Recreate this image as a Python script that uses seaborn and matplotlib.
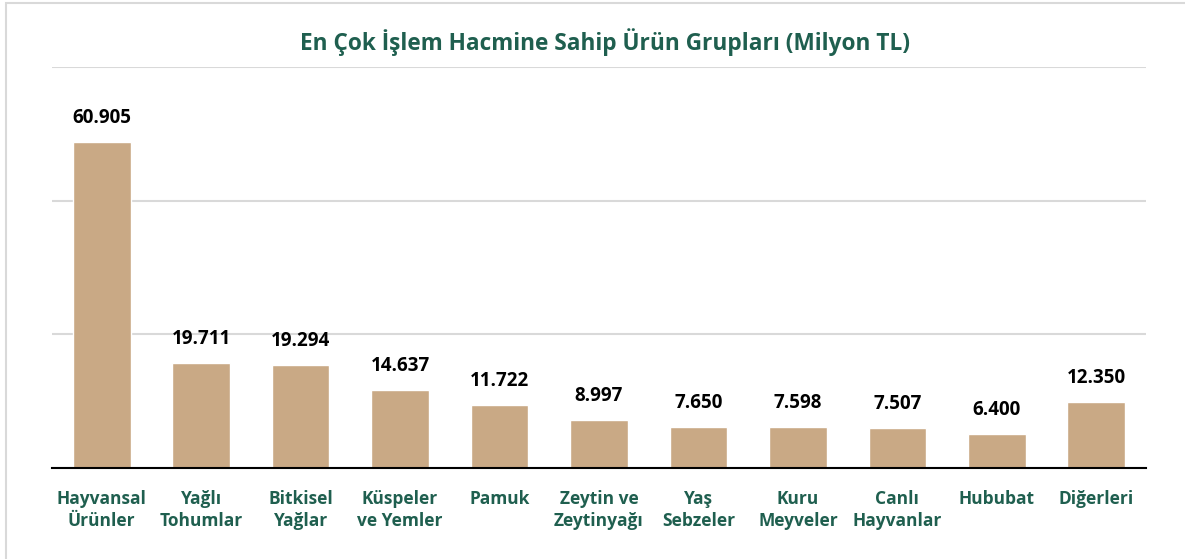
import matplotlib
matplotlib.use("Agg")
import matplotlib.pyplot as plt
import seaborn as sns
import pandas as pd
from matplotlib.patches import Rectangle

categories = ["Hayvansal\nÜrünler", "Yağlı\nTohumlar", "Bitkisel\nYağlar", "Küspeler\nve Yemler",
              "Pamuk", "Zeytin ve\nZeytinyağı", "Yaş\nSebzeler", "Kuru\nMeyveler",
              "Canlı\nHayvanlar", "Hububat", "Diğerleri"]
values = [60.905, 19.711, 19.294, 14.637, 11.722, 8.997, 7.650, 7.598, 7.507, 6.400, 12.350]
labels = ["60.905", "19.711", "19.294", "14.637", "11.722", "8.997", "7.650", "7.598", "7.507", "6.400", "12.350"]
title = "En Çok İşlem Hacmine Sahip Ürün Grupları (Milyon TL)"

sns.set_theme(style="white")
plt.rcParams['font.family'] = ['Open Sans', 'DejaVu Sans']

df = pd.DataFrame({"cat": categories, "val": values})

fig = plt.figure(figsize=(11.85, 5.59), dpi=100)
ax = fig.add_axes([52/1185, 1 - 468/559, (1146-52)/1185, (468-67)/559])

sns.barplot(data=df, x="cat", y="val", color="#C9A985", saturation=1, width=0.58, ax=ax, zorder=3)

ax.set_ylim(0, 75)
ax.set_yticks([0, 25, 50, 75])
ax.yaxis.grid(True, color="#D9D9D9", linewidth=1.5, zorder=0)
ax.set_yticklabels([])
ax.tick_params(axis="y", length=0)
ax.tick_params(axis="x", length=0, pad=16)
for s in ["top", "right", "left"]:
    ax.spines[s].set_visible(False)
ax.spines["bottom"].set_color("black")
ax.spines["bottom"].set_linewidth(1.5)
ax.spines["bottom"].set_zorder(5)
ax.set_xlabel("")
ax.set_ylabel("")
for t in ax.get_xticklabels():
    t.set_fontweight("bold")
    t.set_fontsize(12.5)
    t.set_color("#1F5F4F")
    t.set_linespacing(1.3)

for i, (v, lab) in enumerate(zip(values, labels)):
    ax.annotate(lab, (i, v), xytext=(0, 10), textcoords="offset points",
                ha="center", va="bottom", fontsize=13.5, fontweight="bold", color="black")

fig.text(605/1185, 1 - 42/559, title, ha="center", va="center", fontsize=16.3,
         fontweight="bold", color="#1F5F4F")

fig.patches.append(Rectangle((6/1185, -0.1), 1.2, 1 - 3/559 + 0.1, transform=fig.transFigure,
                             fill=False, edgecolor="#D9D9D9", linewidth=1.5))

fig.savefig("out.png", dpi=100, facecolor="white")
